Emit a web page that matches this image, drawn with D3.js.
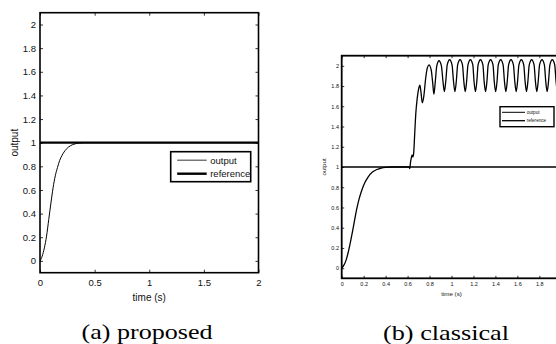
<!DOCTYPE html>
<html>
<head>
<meta charset="utf-8">
<script src="https://cdn.jsdelivr.net/npm/d3@7"></script>
<style>
  html, body { margin: 0; padding: 0; background: #fff; overflow: hidden; }
  svg { display: block; }
</style>
</head>
<body>
<svg id="fig" width="556" height="344"></svg>
<script>
// ---- data ----
const timeDomain = [0, 2];
const outputDomain = [-0.1, 2.1];

// step response of the proposed controller
const proposedTime   = [0, 0.02, 0.04, 0.06, 0.08, 0.10, 0.12, 0.14, 0.16, 0.18, 0.20, 0.24, 0.28, 0.32, 0.36, 0.40, 0.45, 2.0];
const proposedOutput = [0, 0.04, 0.11, 0.21, 0.35, 0.49, 0.62, 0.72, 0.79, 0.85, 0.89, 0.945, 0.975, 0.99, 0.997, 1.0, 1.0, 1.0];

// step response of the classical controller (goes into a limit cycle after ~0.62 s)
const classicalTime = [
  0, 0.02, 0.04, 0.06, 0.08, 0.10, 0.12, 0.14, 0.16, 0.18, 0.20, 0.24, 0.28, 0.32, 0.36, 0.40, 0.45,
  0.60, 0.615, 0.620, 0.626, 0.634, 0.641, 0.648, 0.655, 0.665, 0.675, 0.688, 0.700, 0.712, 0.722, 0.734,
  0.748, 0.765, 0.780, 0.795, 0.815, 0.828, 0.840, 0.852, 0.866, 0.886,
  0.908, 0.922, 0.935, 0.948, 0.961, 0.983,
  1.005, 1.018, 1.031, 1.044, 1.056, 1.078,
  1.100, 1.112, 1.125, 1.138, 1.150, 1.172,
  1.194, 1.205, 1.218, 1.231, 1.242, 1.264,
  1.286, 1.297, 1.310, 1.323, 1.334, 1.356,
  1.378, 1.389, 1.402, 1.415, 1.426, 1.448,
  1.470, 1.482, 1.495, 1.508, 1.520, 1.542,
  1.564, 1.576, 1.589, 1.602, 1.614, 1.636,
  1.658, 1.670, 1.683, 1.696, 1.708, 1.730,
  1.752, 1.764, 1.777, 1.790, 1.802, 1.824,
  1.846, 1.858, 1.871, 1.884, 1.896, 1.918,
  1.940, 1.952, 1.965, 1.978, 1.990, 2.012
];
const classicalOutput = [
  0, 0.03, 0.08, 0.16, 0.26, 0.37, 0.49, 0.60, 0.69, 0.76, 0.82, 0.90, 0.95, 0.975, 0.99, 0.997, 1.0,
  1.0, 1.0, 0.985, 1.04, 1.09, 1.12, 1.10, 1.13, 1.33, 1.53, 1.68, 1.77, 1.81, 1.74, 1.635,
  1.70, 1.88, 1.98, 2.01, 1.96, 1.84, 1.72, 1.84, 2.00, 2.05,
  2.00, 1.85, 1.745, 1.85, 2.01, 2.06,
  2.01, 1.85, 1.745, 1.85, 2.01, 2.06,
  2.01, 1.85, 1.745, 1.85, 2.01, 2.06,
  2.01, 1.85, 1.745, 1.85, 2.01, 2.06,
  2.01, 1.85, 1.745, 1.85, 2.01, 2.06,
  2.01, 1.85, 1.745, 1.85, 2.01, 2.06,
  2.01, 1.85, 1.745, 1.85, 2.01, 2.06,
  2.01, 1.85, 1.745, 1.85, 2.01, 2.06,
  2.01, 1.85, 1.745, 1.85, 2.01, 2.06,
  2.01, 1.85, 1.745, 1.85, 2.01, 2.06,
  2.01, 1.85, 1.745, 1.85, 2.01, 2.06,
  2.01, 1.85, 1.745, 1.85, 2.01, 2.06
];

// unit step reference
const referenceTime   = [0, 2];
const referenceOutput = [1, 1];

const proposedXTicks  = [0, 0.5, 1, 1.5, 2];
const classicalXTicks = [0, 0.2, 0.4, 0.6, 0.8, 1, 1.2, 1.4, 1.6, 1.8];
const outputTicks     = [0, 0.2, 0.4, 0.6, 0.8, 1, 1.2, 1.4, 1.6, 1.8, 2];

const legendLabels = ["output", "reference"];
const xLabel = "time (s)";
const yLabel = "output";
const captions = ["(a) proposed", "(b) classical"];

// ---- drawing ----
const svg = d3.select("#fig");
const fmt = d3.format("~g");
const sans = "'Liberation Sans', Arial, sans-serif";

function zip(ts, ys) { return ts.map((t, i) => ({ t, y: ys[i] })); }

function drawPanel(p, id) {
  const x = d3.scaleLinear().domain(timeDomain).range([p.left, p.right]);
  const y = d3.scaleLinear().domain(outputDomain).range([p.bottom, p.top]);
  const g = svg.append("g");

  g.append("clipPath").attr("id", id).append("rect")
    .attr("x", p.left).attr("y", p.top)
    .attr("width", p.right - p.left).attr("height", p.bottom - p.top);

  // axes: ticks point inward on all four sides
  const ax = (axis, tr, labels) => {
    const a = g.append("g").attr("transform", tr).call(axis)
      .attr("font-size", p.tickFont).attr("font-family", sans);
    a.select(".domain").remove();
    a.selectAll(".tick line").attr("stroke", "#000").attr("stroke-width", 0.8);
    a.selectAll(".tick text").attr("fill", "#111");
    if (!labels) a.selectAll(".tick text").remove();
    return a;
  };
  ax(d3.axisBottom(x).tickValues(p.xTicks).tickSizeInner(-p.tickLen).tickSizeOuter(0)
       .tickPadding(p.xPad).tickFormat(fmt), `translate(0,${p.bottom})`, true);
  ax(d3.axisTop(x).tickValues(p.xTicks).tickSizeInner(-p.tickLen).tickSizeOuter(0),
     `translate(0,${p.top})`, false);
  ax(d3.axisLeft(y).tickValues(outputTicks).tickSizeInner(-p.tickLen).tickSizeOuter(0)
       .tickPadding(p.yPad).tickFormat(fmt), `translate(${p.left},0)`, true);
  ax(d3.axisRight(y).tickValues(outputTicks).tickSizeInner(-p.tickLen).tickSizeOuter(0),
     `translate(${p.right},0)`, false);

  const line = d3.line().x(d => x(d.t)).y(d => y(d.y)).curve(d3.curveMonotoneX);
  const plot = g.append("g").attr("clip-path", `url(#${id})`);
  plot.append("path").datum(zip(referenceTime, referenceOutput))
    .attr("d", line).attr("fill", "none").attr("stroke", "#000").attr("stroke-width", p.refWidth);
  plot.append("path").datum(zip(p.time, p.output))
    .attr("d", line).attr("fill", "none").attr("stroke", "#000").attr("stroke-width", p.outWidth)
    .attr("stroke-linejoin", "round");

  // frame
  g.append("rect").attr("x", p.left).attr("y", p.top)
    .attr("width", p.right - p.left).attr("height", p.bottom - p.top)
    .attr("fill", "none").attr("stroke", "#000").attr("stroke-width", p.frameWidth);

  // axis titles
  g.append("text").attr("x", (p.left + p.right) / 2).attr("y", p.xLabelY)
    .attr("text-anchor", "middle").attr("font-family", sans).attr("font-size", p.labelFont)
    .attr("fill", "#111").text(xLabel);
  g.append("text").attr("transform", `translate(${p.yLabelX},${(p.top + p.bottom) / 2}) rotate(-90)`)
    .attr("text-anchor", "middle").attr("font-family", sans).attr("font-size", p.labelFont)
    .attr("fill", "#111").text(yLabel);

  // legend
  const L = p.legend;
  const lg = g.append("g");
  lg.append("rect").attr("x", L.x).attr("y", L.y).attr("width", L.w).attr("height", L.h)
    .attr("fill", "#fff").attr("stroke", "#000").attr("stroke-width", L.border);
  legendLabels.forEach((name, i) => {
    const yy = L.y + L.rows[i];
    lg.append("line").attr("x1", L.x + L.lineX0).attr("x2", L.x + L.lineX1)
      .attr("y1", yy).attr("y2", yy)
      .attr("stroke", i === 0 ? L.outColor : "#000")
      .attr("stroke-width", i === 0 ? L.outWidth : L.refWidth);
    lg.append("text").attr("x", L.x + L.textX).attr("y", yy).attr("dy", "0.35em")
      .attr("font-family", sans).attr("font-size", L.font).attr("fill", "#111").text(name);
  });

  // caption
  svg.append("text").attr("x", p.captionX).attr("y", p.captionY)
    .attr("text-anchor", "middle").attr("font-family", "'Liberation Serif', 'DejaVu Serif', serif")
    .attr("font-size", 22).attr("textLength", p.captionW).attr("lengthAdjust", "spacingAndGlyphs")
    .attr("fill", "#000").text(p.caption);
}

drawPanel({
  left: 40, right: 258.5, top: 12.7, bottom: 272.7,
  xTicks: proposedXTicks, time: proposedTime, output: proposedOutput,
  tickLen: 3, tickFont: 9.5, labelFont: 10, xPad: 7, yPad: 4,
  xLabelY: 301, yLabelX: 18,
  refWidth: 2.2, outWidth: 1, frameWidth: 1.6,
  legend: { x: 170.7, y: 151.7, w: 80, h: 30, border: 1.6, rows: [8.5, 22],
            lineX0: 6.5, lineX1: 36, textX: 39.5, font: 9.5,
            outColor: "#555", outWidth: 1.2, refWidth: 2.4 },
  caption: captions[0], captionX: 147, captionY: 339, captionW: 131
}, "clipA");

drawPanel({
  left: 341.7, right: 561.3, top: 55.7, bottom: 278.3,
  xTicks: classicalXTicks, time: classicalTime, output: classicalOutput,
  tickLen: 2.5, tickFont: 5.5, labelFont: 6.2, xPad: 4, yPad: 2.7,
  xLabelY: 295.5, yLabelX: 326,
  refWidth: 1.4, outWidth: 1.3, frameWidth: 1.8,
  legend: { x: 500, y: 106.7, w: 54, h: 20, border: 1.4, rows: [5.6, 14],
            lineX0: 2, lineX1: 25, textX: 26.7, font: 4.6,
            outColor: "#000", outWidth: 1, refWidth: 1.3 },
  caption: captions[1], captionX: 446, captionY: 340, captionW: 126
}, "clipB");
</script>
</body>
</html>
